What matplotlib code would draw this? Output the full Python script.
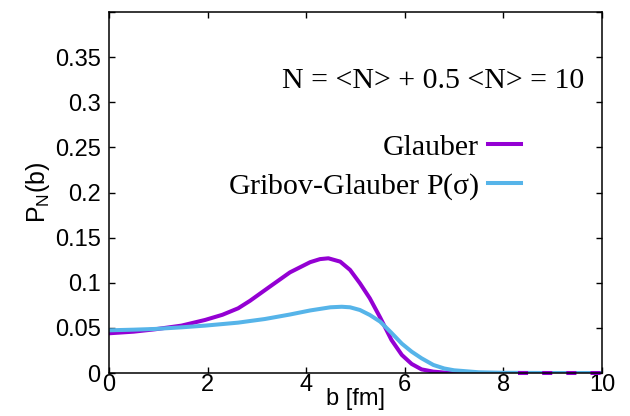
import matplotlib
matplotlib.use('Agg')
import matplotlib.pyplot as plt
from matplotlib.ticker import MultipleLocator, FixedLocator

# impact parameter grid [fm] and P_N(b) for the two models
b_glauber = [0.0, 0.5, 0.93, 1.47, 1.95, 2.3, 2.62, 2.86, 3.27, 3.67, 4.08, 4.28, 4.45, 4.69,
             4.89, 5.09, 5.29, 5.5, 5.73, 5.94, 6.14, 6.34, 6.58, 6.8, 7.1, 7.5, 8.3]
p_glauber = [0.0440, 0.0458, 0.0484, 0.0525, 0.0588, 0.0645, 0.0717, 0.0800, 0.0960, 0.1115,
             0.1228, 0.1262, 0.1271, 0.1234, 0.1142, 0.0994, 0.0828, 0.0615, 0.0366, 0.0200,
             0.0100, 0.0040, 0.0015, 0.0005, 0.0001, 0.0, 0.0]

b_gribov = [0.0, 0.5, 0.93, 1.47, 1.95, 2.62, 2.86, 3.16, 3.67, 4.08, 4.49, 4.72, 4.89, 5.09,
            5.29, 5.5, 5.72, 5.94, 6.14, 6.34, 6.58, 6.8, 7.0, 7.5, 8.0, 9.0, 10.0]
p_gribov = [0.0473, 0.0480, 0.0488, 0.0506, 0.0525, 0.0558, 0.0576, 0.0598, 0.0648, 0.0693,
            0.0728, 0.0734, 0.0728, 0.0698, 0.0643, 0.0569, 0.0450, 0.0325, 0.0236, 0.0163,
            0.0089, 0.0050, 0.0030, 0.0008, 0.0002, 0.0, 0.0]

# zero tail of the Glauber curve, drawn dashed
b_tail = [8.3, 10.0]
p_tail = [0.0, 0.0]

purple = '#9400d3'
skyblue = '#56b4e9'

plt.rcParams['font.family'] = ['Liberation Sans', 'DejaVu Sans']
plt.rcParams['mathtext.default'] = 'regular'

fig = plt.figure(figsize=(6.3, 4.16), dpi=100)
ax = fig.add_axes([109 / 630, 1 - 373 / 416, 493 / 630, 361 / 416])

ax.plot(b_glauber, p_glauber, color=purple, lw=2.9, label='Glauber')
ax.plot(b_gribov, p_gribov, color=skyblue, lw=2.9, label=r'Gribov-Glauber P($\sigma$)')
ax.plot(b_tail, p_tail, color=purple, lw=2.9, dashes=(2.5, 3.5), clip_on=False)

ax.set_xlim(0, 10)
ax.set_ylim(0, 0.4)
ax.xaxis.set_major_locator(MultipleLocator(2))
ax.yaxis.set_major_locator(FixedLocator([0, 0.05, 0.1, 0.15, 0.2, 0.25, 0.3, 0.35, 0.4]))
ax.set_yticklabels(['0', '0.05', '0.1', '0.15', '0.2', '0.25', '0.3', '0.35', ''])
ax.tick_params(direction='in', length=4, width=1, top=True, right=True, labelsize=17)
ax.tick_params(axis='x', pad=1)
ax.tick_params(axis='y', pad=6)
for s in ax.spines.values():
    s.set_linewidth(1.1)

ax.set_xlabel('b [fm]', fontsize=17, labelpad=-6)
ax.set_ylabel(r'P$_N$(b)', fontsize=18, labelpad=2)

serif = ['Liberation Serif', 'DejaVu Serif']
ax.text(0.963, 0.81, 'N = <N> + 0.5 <N> = 10', transform=ax.transAxes, ha='right', va='center',
        fontsize=21.5, family=serif)

leg = ax.legend(loc='center right', bbox_to_anchor=(521 / 630, 1 - 168 / 416),
                bbox_transform=fig.transFigure, frameon=False, markerfirst=False,
                handlelength=1.1, handletextpad=0.3, labelspacing=0.35,
                prop={'family': serif, 'size': 21.5}, borderpad=0, borderaxespad=0)

fig.savefig('out.png', dpi=100)
